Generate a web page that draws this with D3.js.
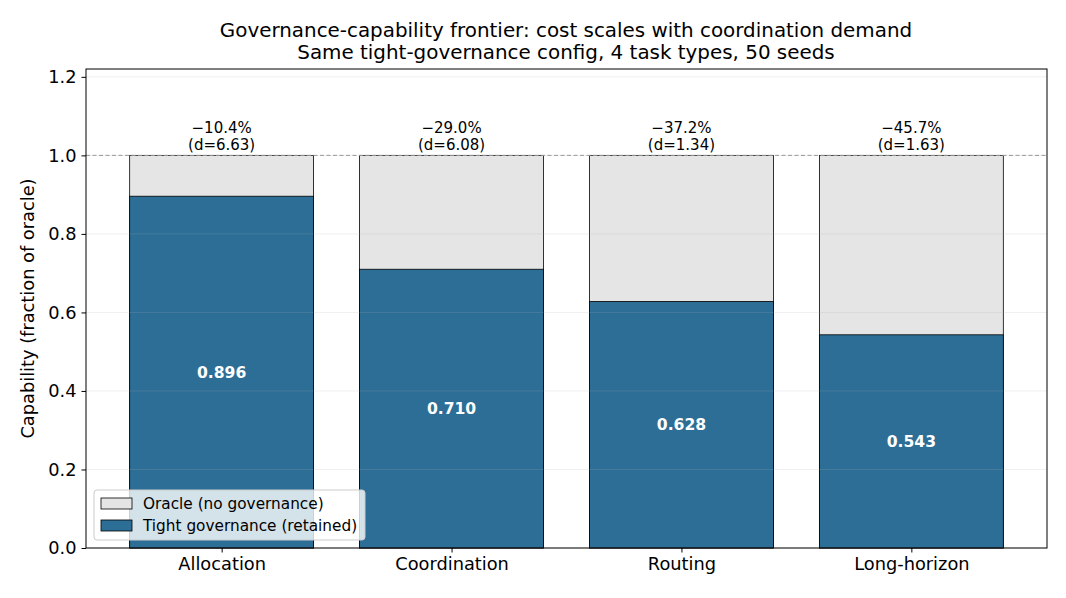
<!DOCTYPE html>
<html><head><meta charset="utf-8">
<script src="https://cdn.jsdelivr.net/npm/d3@7"></script>
<style>body{margin:0;background:#fff}svg{font-family:"DejaVu Sans",sans-serif}</style>
</head><body><svg id="c" width="1066" height="598"></svg>
<script>
const categories = ["Allocation","Coordination","Routing","Long-horizon"];
const oracle = [1.0,1.0,1.0,1.0];
const retained = [0.896,0.710,0.628,0.543];
const deltaLabels = ["\u221210.4%","\u221229.0%","\u221237.2%","\u221245.7%"];
const dLabels = ["(d=6.63)","(d=6.08)","(d=1.34)","(d=1.63)"];
const yTicks = [0,0.2,0.4,0.6,0.8,1.0,1.2];

const svg = d3.select("#c");
const L=86,R=1047,T=69,B=548;
const x = d3.scaleLinear().domain([-0.59,3.59]).range([L,R]);
const y = d3.scaleLinear().domain([0,1.22]).range([B,T]);
const bw = 0.8;
const blue="#2c6e96", grey="#e5e5e5";

// bars
const g = svg.append("g");
g.selectAll(".o").data(oracle).join("rect")
 .attr("x",(d,i)=>x(i-bw/2)).attr("width",x(bw)-x(0))
 .attr("y",d=>y(d)).attr("height",d=>y(0)-y(d))
 .attr("fill",grey).attr("stroke","#000").attr("stroke-width",0.8);
g.selectAll(".r").data(retained).join("rect")
 .attr("x",(d,i)=>x(i-bw/2)).attr("width",x(bw)-x(0))
 .attr("y",d=>y(d)).attr("height",d=>y(0)-y(d))
 .attr("fill",blue).attr("stroke","#000").attr("stroke-width",0.8);

// grid
svg.append("g").selectAll("line").data(yTicks).join("line")
 .attr("x1",L).attr("x2",R).attr("y1",d=>y(d)).attr("y2",d=>y(d))
 .attr("stroke","#b0b0b0").attr("stroke-opacity",0.25).attr("stroke-width",0.8);

// dashed reference
svg.append("line").attr("x1",L).attr("x2",R).attr("y1",y(1)).attr("y2",y(1))
 .attr("stroke","#999").attr("stroke-width",1).attr("stroke-dasharray","4,2.5");

// value labels
svg.append("g").selectAll("text").data(retained).join("text")
 .attr("x",(d,i)=>x(i)).attr("y",d=>y(d/2)).attr("dy","0.35em")
 .attr("text-anchor","middle").attr("fill","#fff").attr("font-weight","bold")
 .attr("font-size",15.6).text(d=>d.toFixed(3));

// annotations
const ann = svg.append("g").attr("font-size",15).attr("text-anchor","middle").attr("fill","#000");
ann.selectAll(".a").data(deltaLabels).join("text").attr("x",(d,i)=>x(i)).attr("y",y(1)-22).text(d=>d);
ann.selectAll(".b").data(dLabels).join("text").attr("x",(d,i)=>x(i)).attr("y",y(1)-5.5).text(d=>d);

// axes
const ya = svg.append("g").attr("transform",`translate(${L},0)`)
 .call(d3.axisLeft(y).tickValues(yTicks).tickFormat(d3.format(".1f")).tickSize(4.5).tickPadding(5));
const xa = svg.append("g").attr("transform",`translate(0,${B})`)
 .call(d3.axisBottom(x).tickValues([0,1,2,3]).tickFormat(i=>categories[i]).tickSize(4.5).tickPadding(5));
[ya,xa].forEach(a=>{a.select(".domain").remove();a.selectAll("text").attr("font-size",17.8).attr("fill","#000").attr("font-family","DejaVu Sans");a.selectAll("line").attr("stroke","#000").attr("stroke-width",1);});
svg.append("rect").attr("x",L).attr("y",T).attr("width",R-L).attr("height",B-T)
 .attr("fill","none").attr("stroke","#000").attr("stroke-width",1);

// y label
svg.append("text").attr("transform",`translate(34,${(T+B)/2}) rotate(-90)`)
 .attr("text-anchor","middle").attr("font-size",17.8).text("Capability (fraction of oracle)");

// title
svg.append("text").attr("x",566).attr("y",37).attr("text-anchor","middle").attr("font-size",19.9)
 .text("Governance-capability frontier: cost scales with coordination demand");
svg.append("text").attr("x",566).attr("y",59).attr("text-anchor","middle").attr("font-size",19.9)
 .text("Same tight-governance config, 4 task types, 50 seeds");

// legend
const lg = svg.append("g").attr("transform","translate(94,490)");
lg.append("rect").attr("width",271).attr("height",50).attr("rx",3)
 .attr("fill","#fff").attr("fill-opacity",0.8).attr("stroke","#ccc");
const items=[["Oracle (no governance)",grey],["Tight governance (retained)",blue]];
items.forEach((it,i)=>{
 lg.append("rect").attr("x",7).attr("y",8+i*22).attr("width",31).attr("height",11)
   .attr("fill",it[1]).attr("stroke","#000").attr("stroke-width",0.8);
 lg.append("text").attr("x",49).attr("y",18.5+i*22).attr("font-size",15.3).text(it[0]);
});
</script></body></html>
